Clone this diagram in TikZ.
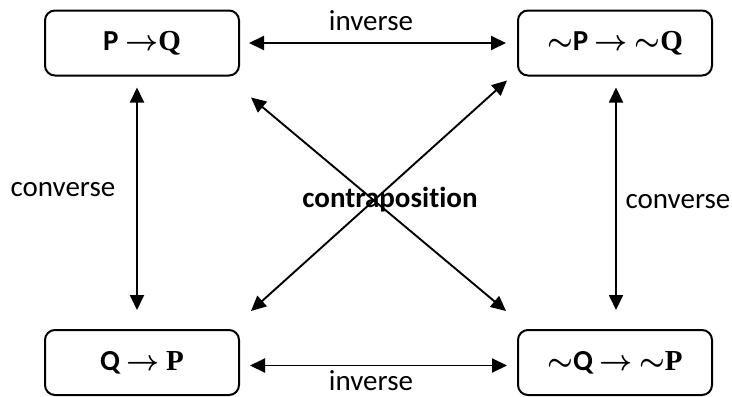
\documentclass[tikz,border=0pt]{standalone}
\usepackage{amsmath}
\usepackage{amssymb}
\usepackage{fontspec}
\setmainfont{Carlito}[Ligatures=NoCommon]
\newfontfamily\serifletter{Liberation Serif}
\usetikzlibrary{arrows.meta,calc}

\begin{document}
\begin{tikzpicture}[x=0.5pt,y=-0.5pt,
    every node/.style={font=\fontsize{14.5}{17}\selectfont},
    propbox/.style={draw, line width=1pt, rounded corners=5pt,
      minimum width=97pt, minimum height=32.5pt, font=\fontsize{14.5}{17}\selectfont\bfseries},
    biarrow/.style={line width=0.95pt, {Triangle[length=7.5pt,width=7pt]}-{Triangle[length=7.5pt,width=7pt]}}]
  \useasboundingbox (0,0) rectangle (732,396);

  % the four statements
  \node[propbox] (pq) at (142,43) {P $\boldsymbol{\rightarrow}${\serifletter Q}};
  \node[propbox] (npnq) at (615,43) {$\boldsymbol{\sim}$P $\boldsymbol{\rightarrow}$ $\boldsymbol{\sim}${\serifletter Q}};
  \node[propbox] (qp) at (142,362.5) {Q $\boldsymbol{\rightarrow}$ {\serifletter P}};
  \node[propbox] (nqnp) at (615,362.5) {$\boldsymbol{\sim}$Q $\boldsymbol{\rightarrow}$ $\boldsymbol{\sim}${\serifletter P}};

  % labels
  \node (invtop) at (371,21) {inverse};
  \node[inner sep=0.5pt] (invbot) at (371,381) {inverse};
  \node (convleft) at (63,190) {converse};
  \node (convright) at (678,202) {converse};
  \node[font=\fontsize{14.5}{17}\selectfont\bfseries] (contra) at (390,200) {contraposition};

  \draw[biarrow] ($(pq.east)+(9,0)$) -- ($(npnq.west)+(-11,0)$);
  \draw[biarrow] ($(qp.east)+(10,3)$) -- ($(nqnp.west)+(-10,3)$);
  \draw[biarrow] ($(pq.south)+(-5,11)$) -- ($(qp.north)+(-5,-19)$);
  \draw[biarrow] ($(npnq.south)+(1,11)$) -- ($(nqnp.north)+(1,-19)$);
  \draw[biarrow] ($(pq.south east)+(11,21)$) -- ($(nqnp.north west)+(-11,-18)$);
  \draw[biarrow] ($(qp.north east)+(11,-18)$) -- ($(npnq.south west)+(-10,4)$);
\end{tikzpicture}
\end{document}
